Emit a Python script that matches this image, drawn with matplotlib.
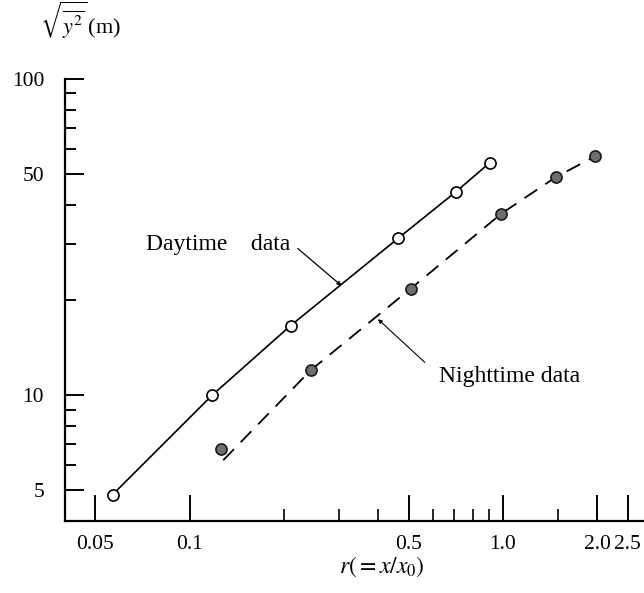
import matplotlib
matplotlib.use("Agg")
from matplotlib import pyplot as plt
from matplotlib.ticker import FixedLocator, NullFormatter, FixedFormatter

plt.rcParams["font.family"] = ["Liberation Serif", "DejaVu Serif"]
plt.rcParams["mathtext.fontset"] = "stix"
plt.rcParams["lines.scale_dashes"] = False

# daytime observations (open circles)
day_r = [0.0568, 0.118, 0.21, 0.462, 0.708, 0.909]
day_y = [4.85, 10.0, 16.6, 31.3, 44.0, 54.4]

# nighttime observations (filled circles)
night_r = [0.1256, 0.2436, 0.507, 0.988, 1.477, 1.967]
night_y = [6.77, 12.0, 21.7, 37.5, 49.0, 56.9]

# dashed curve through the night data
night_fit_r = [0.128, 0.2436, 0.507, 0.988, 1.477, 1.967]
night_fit_y = [6.23, 12.0, 21.7, 37.5, 49.0, 56.9]

x_major = [0.05, 0.1, 0.5, 1.0, 2.0, 2.5]
x_major_labels = ["0.05", "0.1", "0.5", "1.0", "2.0", "2.5"]
x_minor = [0.2, 0.3, 0.4, 0.6, 0.7, 0.8, 0.9, 1.5]
y_major = [5, 10, 50, 100]
y_major_labels = ["5", "10", "50", "100"]
y_minor = [6, 7, 8, 9, 20, 30, 40, 60, 70, 80, 90]

fig = plt.figure(figsize=(6.44, 5.93), dpi=100)
ax = fig.add_axes([65 / 644, 72 / 593, 579 / 644, 442 / 593])
ax.set_xscale("log")
ax.set_yscale("log")
ax.set_xlim(0.04, 2.82)
ax.set_ylim(4.0, 100)

ax.plot(day_r, day_y, color="black", lw=1.2, marker="o", ms=8,
        mfc="white", mec="black", mew=1.2, zorder=3)
ax.plot(night_fit_r, night_fit_y, color="black", lw=1.3, dashes=(11, 7), zorder=2)
ax.plot(night_r, night_y, ls="none", marker="o", ms=8,
        mfc="#6e6e6e", mec="#1a1a1a", mew=1.2, zorder=3)

# labels with leader lines
ax.text(0.0727, 28.7, "Daytime    data", fontsize=17, ha="left", va="baseline")
ax.annotate("", xy=(0.3052, 22.2), xytext=(0.2213, 29.1),
            arrowprops=dict(arrowstyle="-|>", color="black", lw=0.9,
                            mutation_scale=6, shrinkA=0, shrinkB=0))
ax.text(0.626, 10.97, "Nighttime data", fontsize=17, ha="left", va="baseline")
ax.annotate("", xy=(0.399, 17.4), xytext=(0.563, 12.7),
            arrowprops=dict(arrowstyle="-|>", color="black", lw=0.8,
                            mutation_scale=6, shrinkA=0, shrinkB=0))

for side in ["top", "right"]:
    ax.spines[side].set_visible(False)
ax.spines["left"].set_linewidth(1.6)
ax.spines["bottom"].set_linewidth(1.6)

ax.xaxis.set_major_locator(FixedLocator(x_major))
ax.xaxis.set_major_formatter(FixedFormatter(x_major_labels))
ax.xaxis.set_minor_locator(FixedLocator(x_minor))
ax.xaxis.set_minor_formatter(NullFormatter())
ax.yaxis.set_major_locator(FixedLocator(y_major))
ax.yaxis.set_major_formatter(FixedFormatter(y_major_labels))
ax.yaxis.set_minor_locator(FixedLocator(y_minor))
ax.yaxis.set_minor_formatter(NullFormatter())

ax.tick_params(axis="x", which="major", direction="in", length=19, width=1.4,
               pad=10, labelsize=15.5)
ax.tick_params(axis="x", which="minor", direction="in", length=9, width=1.2)
ax.tick_params(axis="y", which="major", direction="in", length=14, width=1.4,
               pad=15, labelsize=15.5)
ax.tick_params(axis="y", which="minor", direction="in", length=8, width=1.4)

fig.text(40 / 644, 1 - 20 / 593, r"$\sqrt{\overline{y^2}}\,$(m)", fontsize=16,
         ha="left", va="center")
fig.text(382 / 644, 1 - 567 / 593, r"$r(=x/x_0)$", fontsize=17,
         ha="center", va="center")

fig.savefig("out.png", dpi=100)
